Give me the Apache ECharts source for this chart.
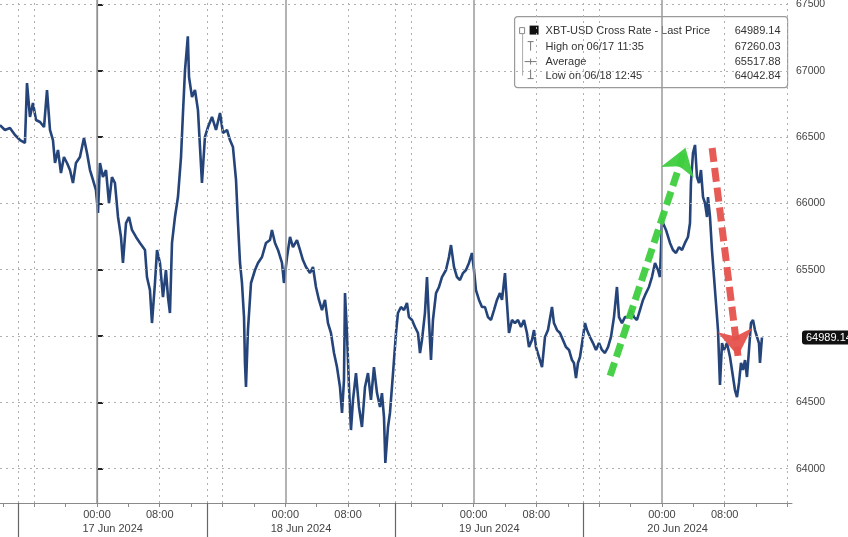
<!DOCTYPE html>
<html><head><meta charset="utf-8">
<script src="https://cdn.jsdelivr.net/npm/echarts@6/dist/echarts.min.js"></script>
<style>html,body{margin:0;padding:0;background:#fff}#c{width:848px;height:537px}</style>
</head><body><div id="c"></div>
<script>
// Time in hours relative to 17 Jun 2024 00:00
const hours = [
-12.36,-11.73,-11.09,-10.45,-9.81,-9.18,-8.92,-8.54,-8.16,-7.77,-7.26,-6.75,-6.37,-5.99,-5.61,-5.35,-4.97,-4.59,-4.21,-3.82,-3.44,-3.06,-2.68,-2.17,-1.66,-1.27,-0.89,-0.51,-0.13,
0.13,0.38,0.76,1.15,1.53,1.91,2.29,2.68,3.06,3.31,3.70,4.08,4.46,4.97,5.48,6.12,6.37,6.75,7.01,7.39,7.65,8.03,8.41,8.79,9.05,9.30,9.56,9.94,10.32,10.71,10.96,11.22,11.58,
11.73,12.11,12.49,12.87,13.13,13.38,13.76,14.15,14.66,15.17,15.68,16.06,16.57,16.95,17.33,17.72,17.97,18.23,18.48,18.74,18.86,18.99,19.24,19.63,20.14,20.52,21.03,21.54,22.05,22.30,22.69,23.07,23.58,23.83,
24.22,24.60,24.98,25.49,25.87,26.25,26.64,27.15,27.53,27.91,28.29,28.68,29.06,29.44,29.82,30.21,30.59,30.97,31.23,31.48,31.61,31.86,32.12,32.37,32.63,33.01,33.39,33.77,34.16,34.54,34.92,35.30,35.69,36.07,36.32,36.58,
36.75,37.09,37.34,37.73,38.11,38.36,38.74,39.13,39.51,39.76,40.15,40.53,40.91,41.17,41.42,41.80,42.06,42.31,42.57,42.82,43.21,43.59,43.97,44.48,44.86,45.12,45.50,45.88,46.26,46.65,47.03,47.41,47.79,
48.05,48.30,48.69,49.07,49.45,49.83,50.22,50.60,50.98,51.36,51.62,52.00,52.25,52.51,52.89,53.27,53.66,54.04,54.42,54.80,55.06,55.44,55.70,55.95,56.33,56.72,57.10,57.48,57.99,58.24,58.63,59.01,59.39,59.77,60.16,60.54,60.79,61.05,61.30,61.56,61.94,
62.20,62.45,62.83,63.22,63.60,63.98,64.36,64.74,65.13,65.51,65.89,66.27,66.53,66.91,67.29,67.68,68.06,68.44,68.82,69.20,69.59,69.97,70.35,70.73,71.12,71.50,71.75,71.88,
72.01,72.14,72.52,73.03,73.41,73.79,74.18,74.56,74.94,75.32,75.58,75.70,75.96,76.22,76.47,76.73,76.98,77.24,77.49,77.75,77.87,78.13,78.38,78.64,78.89,79.15,79.27,79.40,79.66,79.91,80.29,80.68,80.93,81.31,81.57,81.82,82.08,82.33,82.59,82.84,83.10,83.35,83.61,83.86,84.12,84.37,84.50,84.75
];
const prices = [
66591,66554,66569,66516,66478,66456,66908,66652,66757,66629,66614,66576,66855,66554,66478,66305,66403,66229,66350,66305,66252,66154,66305,66350,66493,66380,66252,66177,66101,
65928,66305,66199,66252,66003,66199,66154,65898,65747,65551,65852,65898,65800,65747,65702,65649,65445,65347,65098,65400,65649,65551,65294,65498,65294,65174,65702,65898,66048,66350,66682,67006,67260.03,
66953,66802,66855,66704,66425,66154,66501,66576,66652,66554,66682,66531,66554,66478,66425,66177,65852,65551,65400,65143,64797,64616,65045,65400,65498,65551,65596,65702,65724,65800,65702,65649,65551,65400,
65596,65747,65671,65724,65649,65573,65521,65475,65521,65370,65272,65196,65272,65098,65023,64872,64766,64616,64420,64668,65324,65023,64616,64291,64518,64721,64465,64314,64616,64721,64518,64766,64570,64465,64570,64389,
64042.84,64314,64420,64721,65023,65174,65219,65196,65249,65143,65121,65068,65023,64872,64970,65174,65445,65121,64819,65121,65324,65370,65445,65498,65596,65686,65521,65445,65422,65475,65498,65551,65626,
65498,65347,65272,65219,65219,65143,65121,65196,65272,65324,65272,65475,65249,65023,65121,65098,65121,65068,65121,65023,64917,64970,65045,64917,64842,64766,64993,65045,65219,65098,65045,65023,64970,64917,64895,64819,64797,64683,64797,64842,64993,
65098,65045,64993,64947,64895,64947,64895,64872,64917,64993,65143,65370,65143,65098,65143,65143,65196,65143,65121,65196,65272,65324,65370,65445,65551,65498,65445,65649,
65898,65852,65800,65702,65649,65626,65671,65649,65702,65747,65852,66154,66380,66441,66199,66154,66252,66048,66003,65898,66048,65898,65649,65445,65249,65045,64842,64631,64947,64895,64947,64842,64744,64593,64540,64646,64797,64744,64819,64691,64895,65098,65121,65045,64993,64947,64797,64989.14
];
const yTicks = [64000,64500,65000,65500,66000,66500,67000,67500];
const yLabelValues = [64000,64500,65500,66000,66500,67000,67500];
const yLabelTexts = ['64000','64500','65500','66000','66500','67000','67500'];
const timeTickHours = [0,8,24,32,48,56,72,80];
const timeTickLabels = ['00:00','08:00','00:00','08:00','00:00','08:00','00:00','08:00'];
const minorTickHours = [-12,-8,-4,0,4,8,12,16,20,24,28,32,36,40,44,48,52,56,60,64,68,72,76,80,84,88];
const dayBoundaryHours = [-10,14,38,62];
const dayLabelHours = [2,26,50,74];
const dayLabels = ['17 Jun 2024','18 Jun 2024','19 Jun 2024','20 Jun 2024'];
const midnightHours = [0,24,48,72];
const dottedGridHours = [-10,-8,8,14,16,32,38,40,56,62,64,80,88];
const legendNames = ['XBT-USD Cross Rate - Last Price','High on 06/17 11:35','Average','Low on 06/18 12:45'];
const legendValues = ['64989.14','67260.03','65517.88','64042.84'];
const lastPrice = 64989.14;
const lastPriceText = '64989.14';
const upArrow = [[65.4,64700],[75.0,66420]];
const downArrow = [[78.4,66418],[81.7,64850]];

const X_MIN = -12.36, X_MAX = 88.58, Y_MIN = 63741, Y_MAX = 67534;
const FONT = 'Liberation Sans';

const gridLines = [];
yTicks.forEach(v => gridLines.push({yAxis: v, lineStyle: {type: [2, 4], color: '#b0b0b0', width: 1}}));
dottedGridHours.forEach(v => gridLines.push({xAxis: v, lineStyle: {type: [2, 4], color: '#b0b0b0', width: 1}}));
midnightHours.forEach(v => gridLines.push({xAxis: v, lineStyle: {type: 'solid', color: '#9a9a9a', width: 1.5}}));

const chart = echarts.init(document.getElementById('c'), null, {renderer: 'canvas'});
const lblIdx = (arr, v) => arr.findIndex(a => Math.abs(a - v) < 1e-6);

const legendChildren = [
  {type: 'rect', shape: {x: 0, y: 0, width: 273, height: 71, r: 3}, style: {fill: '#fff', stroke: '#9a9a9a', lineWidth: 1.2}},
  {type: 'rect', shape: {x: 5, y: 11, width: 5, height: 6}, style: {fill: '#fff', stroke: '#888', lineWidth: 1}},
  {type: 'rect', shape: {x: 15, y: 9, width: 9, height: 9}, style: {fill: '#111'}},
  {type: 'line', shape: {x1: 8, y1: 17, x2: 8, y2: 59}, style: {stroke: '#aaa', lineWidth: 1}},
  {type: 'line', shape: {x1: 13, y1: 25, x2: 19, y2: 25}, style: {stroke: '#777', lineWidth: 1}},
  {type: 'line', shape: {x1: 16, y1: 25, x2: 16, y2: 34}, style: {stroke: '#777', lineWidth: 1}},
  {type: 'line', shape: {x1: 10, y1: 45, x2: 22, y2: 45}, style: {stroke: '#777', lineWidth: 1}},
  {type: 'line', shape: {x1: 16, y1: 42, x2: 16, y2: 48}, style: {stroke: '#777', lineWidth: 1}},
  {type: 'line', shape: {x1: 16, y1: 53, x2: 16, y2: 62}, style: {stroke: '#777', lineWidth: 1}},
  {type: 'line', shape: {x1: 13, y1: 62, x2: 19, y2: 62}, style: {stroke: '#777', lineWidth: 1}}
];
const rowY = [14, 30, 45, 59];
legendNames.forEach((n, i) => {
  legendChildren.push({type: 'text', style: {text: n, x: 31, y: rowY[i], fill: '#333', font: '11px ' + FONT, textVerticalAlign: 'middle'}});
  legendChildren.push({type: 'text', style: {text: legendValues[i], x: 266, y: rowY[i], fill: '#333', font: '11px ' + FONT, textAlign: 'right', textVerticalAlign: 'middle'}});
});

chart.setOption({
  animation: false,
  backgroundColor: '#fff',
  grid: {left: 0, right: 56, top: 0, bottom: 34, containLabel: false, outerBoundsMode: 'none'},
  xAxis: [
    {type: 'value', min: X_MIN, max: X_MAX, position: 'bottom',
     axisLine: {show: true, lineStyle: {color: '#8a8a8a', width: 1}},
     axisTick: {show: true, customValues: minorTickHours, length: 4, lineStyle: {color: '#8a8a8a'}},
     axisLabel: {customValues: timeTickHours, formatter: v => timeTickLabels[lblIdx(timeTickHours, v)] || '', color: '#444', fontSize: 11, fontFamily: FONT, margin: 6},
     splitLine: {show: false}},
    {type: 'value', min: X_MIN, max: X_MAX, position: 'bottom',
     axisLine: {show: false},
     axisTick: {show: true, customValues: dayBoundaryHours, length: 34, lineStyle: {color: '#666', width: 1.2}},
     axisLabel: {customValues: dayLabelHours, formatter: v => dayLabels[lblIdx(dayLabelHours, v)] || '', color: '#444', fontSize: 11, fontFamily: FONT, margin: 20},
     splitLine: {show: false}}
  ],
  yAxis: [
    {type: 'value', min: Y_MIN, max: Y_MAX, position: 'right',
     axisLine: {show: true, lineStyle: {color: '#777', width: 1.2}},
     axisTick: {show: true, customValues: yTicks, length: 6, lineStyle: {color: '#222', width: 2}},
     axisLabel: {customValues: yLabelValues, formatter: v => yLabelTexts[lblIdx(yLabelValues, v)] || '', color: '#444', fontSize: 10.5, fontFamily: FONT, margin: 4},
     splitLine: {show: false}},
    {type: 'value', min: Y_MIN, max: Y_MAX, position: 'right',
     axisLine: {show: false}, axisTick: {show: false}, splitLine: {show: false},
     axisLabel: {customValues: [lastPrice], formatter: () => lastPriceText, color: '#fff', backgroundColor: '#111',
       padding: [2, 4, 1, 4], borderRadius: 3, fontSize: 11, fontFamily: FONT, margin: 10}}
  ],
  series: [
    {type: 'line', data: [], z: 1, silent: true,
     markLine: {silent: true, symbol: 'none', label: {show: false}, animation: false, data: gridLines}},
    {type: 'line', name: 'XBT-USD', data: hours.map((h, i) => [h, prices[i]]), showSymbol: false, z: 3,
     lineStyle: {color: '#24447a', width: 2.6}},
    {type: 'line', data: [], z: 5, silent: true,
     markLine: {silent: true, symbol: ['none', 'arrow'], symbolSize: 26, label: {show: false}, animation: false,
       data: [
         [{coord: upArrow[0], lineStyle: {color: '#3fce3f', width: 7, type: [14, 6], opacity: 0.95}}, {coord: upArrow[1]}],
         [{coord: downArrow[0], lineStyle: {color: '#e5524c', width: 7, type: [14, 6], opacity: 0.95}}, {coord: downArrow[1]}]
       ]}}
  ],
  graphic: [{type: 'group', left: 514, top: 16, z: 100, children: legendChildren}]
});
</script></body></html>
